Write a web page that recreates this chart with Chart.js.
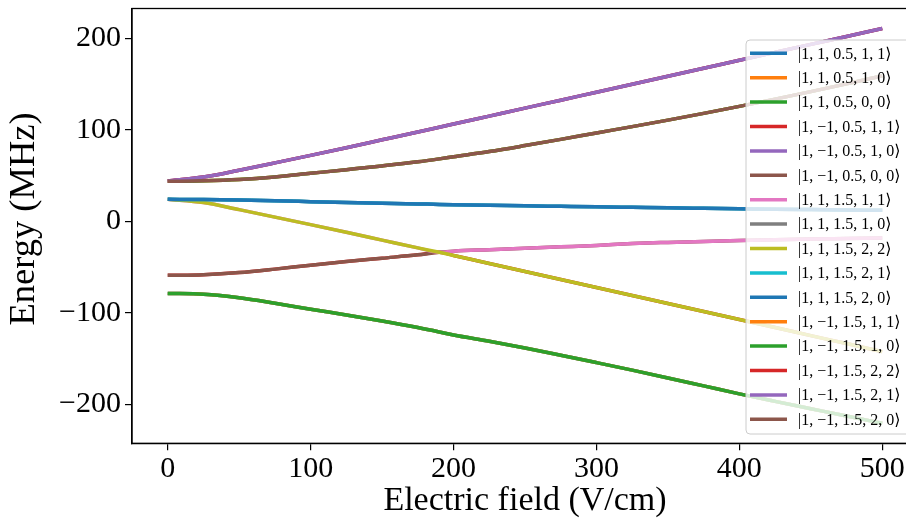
<!DOCTYPE html>
<html>
<head>
<meta charset="utf-8">
<script src="https://cdn.jsdelivr.net/npm/chart.js@4.4.1/dist/chart.umd.min.js"></script>
<style>
  html, body { margin: 0; padding: 0; background: #fff; width: 906px; height: 520px; overflow: hidden; }
  canvas { display: block; }
</style>
</head>
<body>
<canvas id="stark" width="920" height="520"></canvas>
<script>
// Electric field grid (V/cm)
const fieldVcm = [0, 25, 50, 75, 100, 125, 150, 175, 190, 200, 225, 250, 275, 300, 325, 350, 375, 400, 425, 450, 475, 500];

// Energy levels (MHz) along the field grid
const levelTop     = [44.0, 48.3, 55.8, 63.8, 72.0, 80.4, 89.0, 97.6, 102.7, 106.2, 114.9, 123.6, 132.3, 141.0, 149.7, 158.4, 167.1, 175.8, 184.5, 193.2, 201.9, 210.6];
const levelSecond  = [43.7, 44.2, 45.6, 48.4, 52.4, 56.4, 60.5, 65.0, 68.2, 70.5, 76.2, 82.7, 89.5, 96.5, 103.4, 110.5, 117.9, 125.5, 133.4, 141.6, 150.1, 158.8];
const levelFlat    = [24.0, 23.8, 23.2, 22.4, 21.5, 20.6, 19.8, 19.0, 18.5, 18.2, 17.5, 16.9, 16.4, 15.9, 15.3, 14.7, 14.2, 13.7, 13.2, 12.8, 12.4, 12.0];
const levelFalling = [24.0, 20.5, 12.8, 4.6, -3.6, -12.0, -20.5, -29.0, -33.8, -37.3, -46.0, -54.8, -63.5, -72.3, -81.0, -89.8, -98.5, -107.3, -116.0, -124.8, -133.5, -142.3];
const levelRising  = [-59.0, -58.3, -56.0, -52.2, -47.9, -44.0, -40.3, -36.6, -33.8, -32.6, -31.0, -29.5, -27.9, -26.3, -24.3, -23.0, -21.9, -20.9, -20.1, -19.4, -18.8, -18.2];
// energy-ordered pair around the crossing near 190 V/cm
const levelPairUpper = [24.0, 20.5, 12.8, 4.6, -3.6, -12.0, -20.5, -29.0, -33.8, -32.6, -31.0, -29.5, -27.9, -26.3, -24.3, -23.0, -21.9, -20.9, -20.1, -19.4, -18.8, -18.2];
const levelPairLower = [-59.0, -58.3, -56.0, -52.2, -47.9, -44.0, -40.3, -36.6, -33.8, -37.3, -46.0, -54.8, -63.5, -72.3, -81.0, -89.8, -98.5, -107.3, -116.0, -124.8, -133.5, -142.3];
const levelBottom  = [-78.7, -79.6, -83.4, -89.4, -96.0, -102.2, -108.8, -116.0, -120.8, -124.2, -131.0, -138.3, -146.2, -154.3, -162.5, -171.0, -179.7, -188.4, -196.6, -204.6, -212.6, -220.5];

// State labels
const stateLabels = [
  '|1, 1, 0.5, 1, 1\u27E9',
  '|1, 1, 0.5, 1, 0\u27E9',
  '|1, 1, 0.5, 0, 0\u27E9',
  '|1, \u22121, 0.5, 1, 1\u27E9',
  '|1, \u22121, 0.5, 1, 0\u27E9',
  '|1, \u22121, 0.5, 0, 0\u27E9',
  '|1, 1, 1.5, 1, 1\u27E9',
  '|1, 1, 1.5, 1, 0\u27E9',
  '|1, 1, 1.5, 2, 2\u27E9',
  '|1, 1, 1.5, 2, 1\u27E9',
  '|1, 1, 1.5, 2, 0\u27E9',
  '|1, \u22121, 1.5, 1, 1\u27E9',
  '|1, \u22121, 1.5, 1, 0\u27E9',
  '|1, \u22121, 1.5, 2, 2\u27E9',
  '|1, \u22121, 1.5, 2, 1\u27E9',
  '|1, \u22121, 1.5, 2, 0\u27E9'
];
// Which level each state follows
const stateLevels = [
  levelBottom, levelSecond, levelSecond, levelPairLower,
  levelTop, levelRising, levelPairUpper, levelFlat,
  levelFalling, levelFlat, levelFlat, levelBottom,
  levelBottom, levelTop, levelTop, levelSecond
];
const yTicks = [-200, -100, 0, 100, 200];
const xTicks = [0, 100, 200, 300, 400, 500];

const tab10 = ['#1f77b4', '#ff7f0e', '#2ca02c', '#d62728', '#9467bd',
               '#8c564b', '#e377c2', '#7f7f7f', '#bcbd22', '#17becf'];
const SERIF = '"Liberation Serif", "DejaVu Serif", serif';

const datasets = stateLabels.map((label, i) => ({
  label,
  data: fieldVcm.map((x, k) => ({ x, y: stateLevels[i][k] })),
  borderColor: tab10[i % 10],
  backgroundColor: tab10[i % 10],
  borderWidth: 3.5,
  pointRadius: 0,
  fill: false,
  cubicInterpolationMode: 'monotone',
  order: -i            // later states drawn on top
}));

const fmtTick = v => (v < 0 ? '\u2212' + Math.abs(v) : String(v));

// frame, axis titles and the boxed legend
const decorations = {
  id: 'decorations',
  afterDraw(chart) {
    const { ctx, chartArea: a } = chart;
    ctx.save();
    ctx.strokeStyle = '#000';
    ctx.lineWidth = 1.3;
    ctx.strokeRect(a.left, a.top, a.right - a.left, a.bottom - a.top);

    ctx.fillStyle = '#000';
    ctx.textAlign = 'center';
    ctx.textBaseline = 'alphabetic';
    ctx.font = '34px ' + SERIF;
    ctx.fillText('Electric field (V/cm)', (a.left + a.right) / 2, 510);
    ctx.save();
    ctx.translate(34, 219);
    ctx.rotate(-Math.PI / 2);
    ctx.font = '36.5px ' + SERIF;
    ctx.fillText('Energy (MHz)', 0, 0);
    ctx.restore();

    // legend box
    const bx = 746, by = 40, bw = 166, bh = 394, r = 4;
    ctx.beginPath();
    ctx.moveTo(bx + r, by);
    ctx.lineTo(bx + bw - r, by);
    ctx.arcTo(bx + bw, by, bx + bw, by + r, r);
    ctx.lineTo(bx + bw, by + bh - r);
    ctx.arcTo(bx + bw, by + bh, bx + bw - r, by + bh, r);
    ctx.lineTo(bx + r, by + bh);
    ctx.arcTo(bx, by + bh, bx, by + bh - r, r);
    ctx.lineTo(bx, by + r);
    ctx.arcTo(bx, by, bx + r, by, r);
    ctx.closePath();
    ctx.fillStyle = 'rgba(255,255,255,0.8)';
    ctx.fill();
    ctx.strokeStyle = '#cccccc';
    ctx.lineWidth = 1;
    ctx.stroke();

    ctx.font = '16px ' + SERIF;
    ctx.textAlign = 'left';
    ctx.textBaseline = 'middle';
    chart.data.datasets.forEach((ds, i) => {
      const y = 53.3 + i * 24.4;
      ctx.strokeStyle = ds.borderColor;
      ctx.lineWidth = 3.5;
      ctx.beginPath();
      ctx.moveTo(750, y);
      ctx.lineTo(787, y);
      ctx.stroke();
      ctx.fillStyle = '#000';
      ctx.fillText(ds.label, 798, y + 1);
    });
    ctx.restore();
  }
};

new Chart(document.getElementById('stark'), {
  type: 'line',
  data: { datasets },
  plugins: [decorations],
  options: {
    responsive: false,
    animation: false,
    devicePixelRatio: 1,
    layout: { padding: { top: 8.5, right: 2, left: 0, bottom: 0 } },
    plugins: { legend: { display: false }, tooltip: { enabled: false } },
    scales: {
      x: {
        type: 'linear',
        min: -25,
        max: 525,
        afterBuildTicks(s) { s.ticks = xTicks.map(value => ({ value })); },
        afterFit(s) { s.height = 520 - 443.3; s.paddingLeft = 0; s.paddingRight = 0; },
        ticks: {
          color: '#000',
          font: { family: SERIF, size: 30 },
          padding: 1,
          maxRotation: 0,
          autoSkip: false,
          callback: fmtTick
        },
        grid: { drawOnChartArea: false, drawTicks: true, tickLength: 7, color: '#000', lineWidth: 1.2 },
        border: { display: true, color: '#000', width: 1.3 }
      },
      y: {
        type: 'linear',
        min: -242.4,
        max: 232.4,
        afterBuildTicks(s) { s.ticks = yTicks.map(value => ({ value })); },
        afterFit(s) { s.width = 132; s.paddingTop = 0; s.paddingBottom = 0; },
        ticks: {
          color: '#000',
          font: { family: SERIF, size: 30 },
          padding: 4,
          autoSkip: false,
          callback: fmtTick
        },
        grid: { drawOnChartArea: false, drawTicks: true, tickLength: 7, color: '#000', lineWidth: 1.2 },
        border: { display: true, color: '#000', width: 1.3 }
      }
    }
  }
});
</script>
</body>
</html>
